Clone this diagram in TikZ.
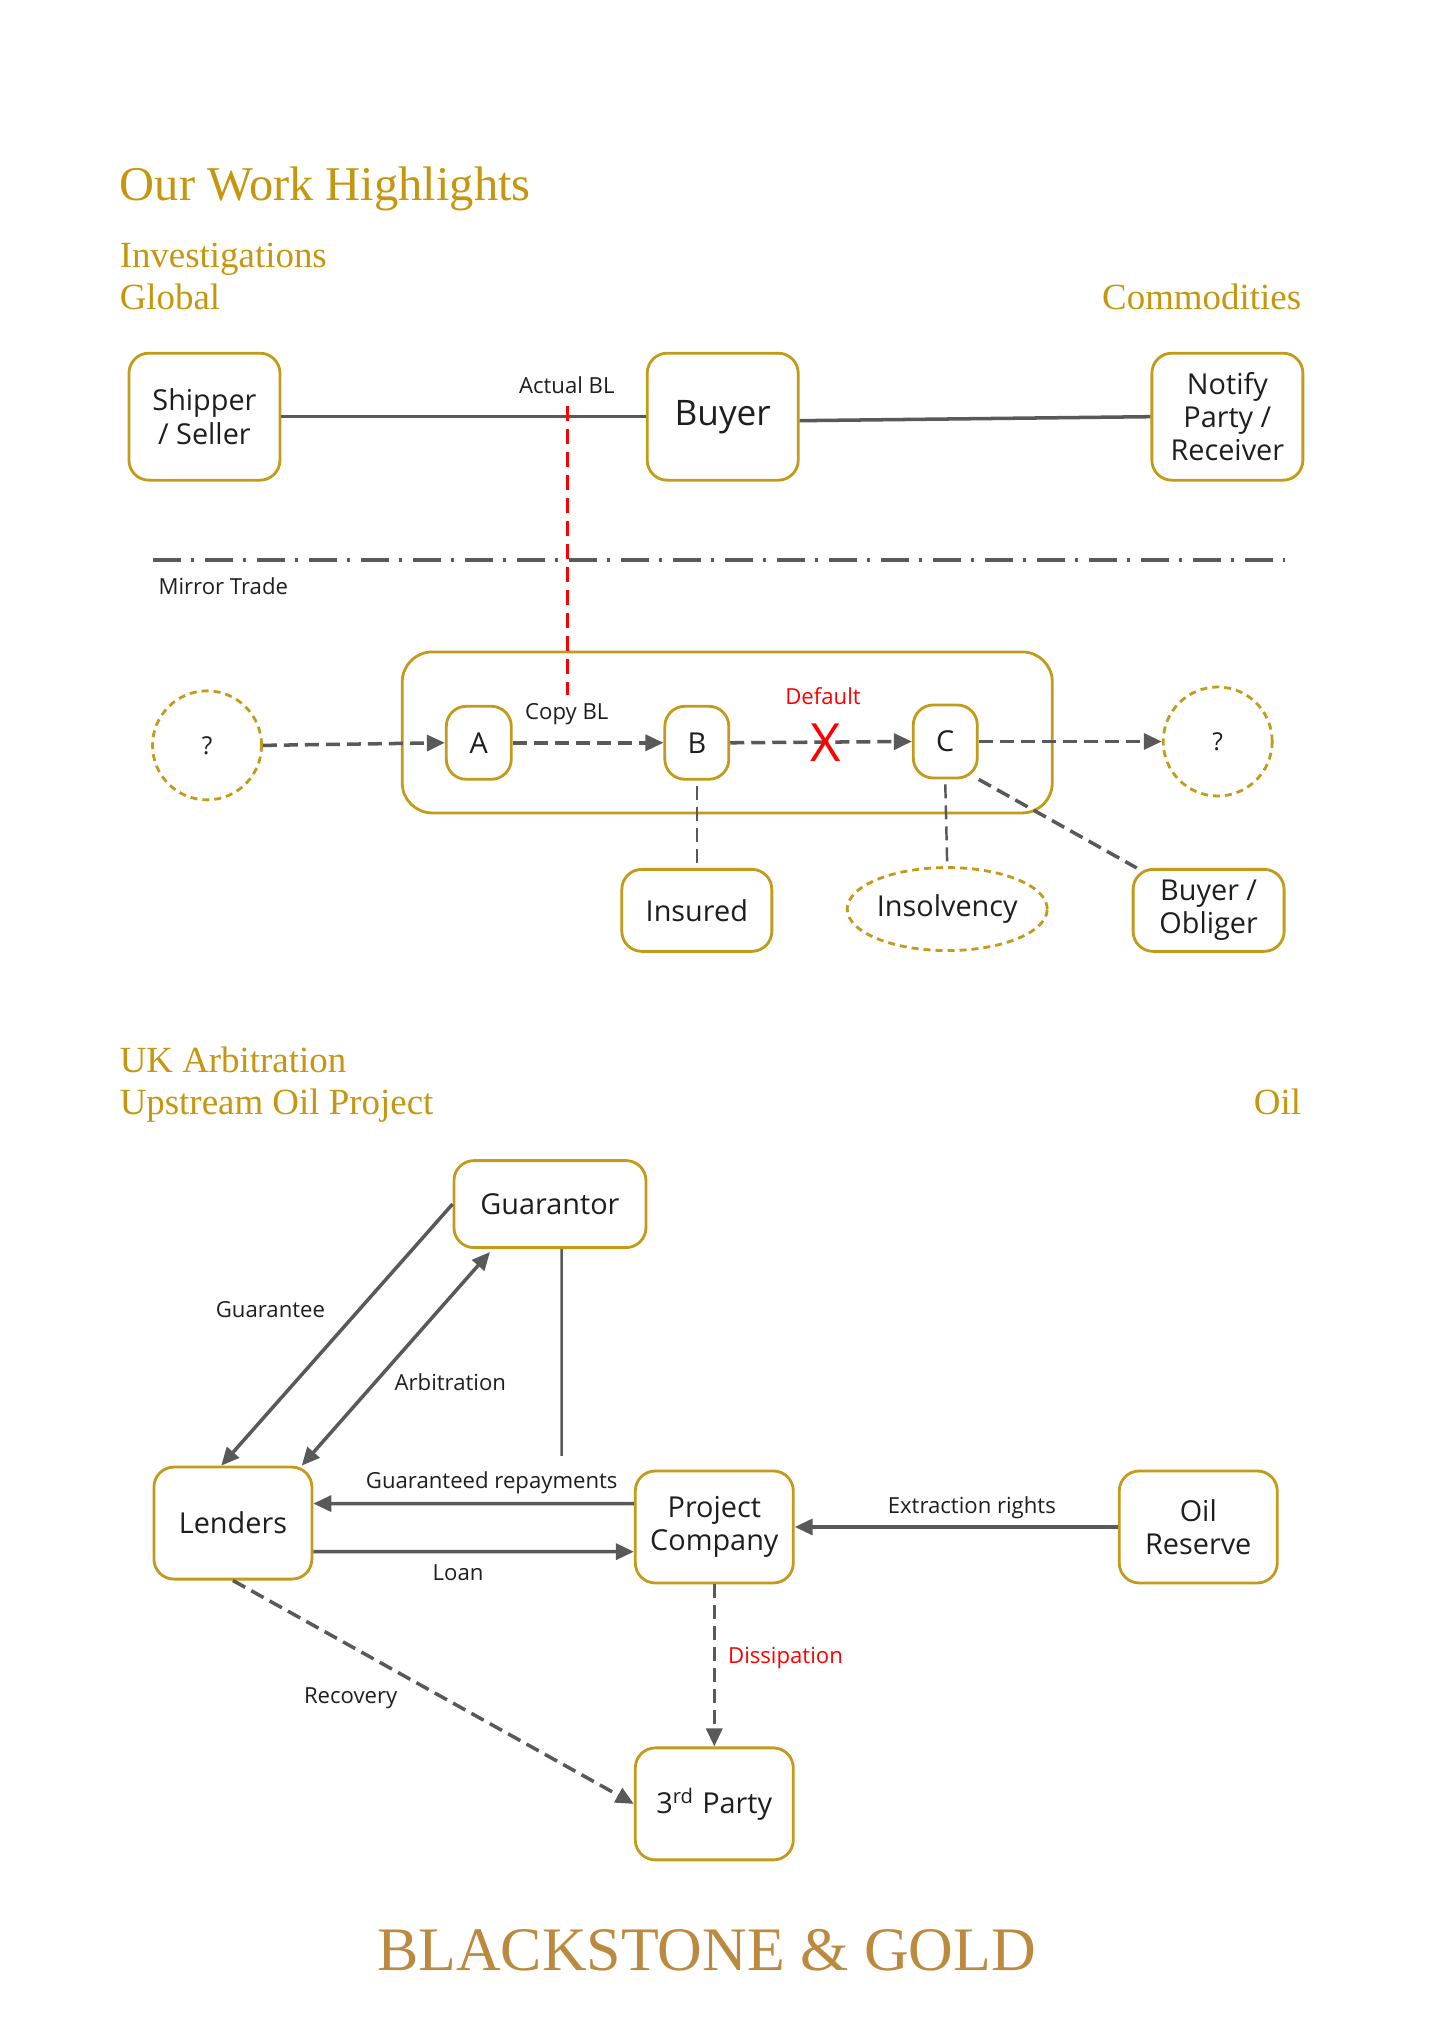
\documentclass[tikz,border=0pt]{standalone}
\usepackage{fontspec}
\setmainfont{Liberation Serif}
\setsansfont{Open Sans}
\usepackage{xcolor}
\usetikzlibrary{shapes.geometric,arrows.meta,positioning}
\definecolor{gold}{HTML}{C49A1A}
\definecolor{headgold}{HTML}{C6960F}
\definecolor{logogold}{HTML}{BC8A3E}
\definecolor{linegrey}{HTML}{595959}
\definecolor{inkgrey}{HTML}{1E1E1E}
\tikzset{
  box/.style n args={2}{draw=gold, line width=0.8pt, fill=white, rounded corners=0.2cm, minimum width=#1cm, minimum height=#2cm, inner sep=0pt, align=center, text=inkgrey, font=\sffamily\fontsize{8.2}{9.4}\selectfont},
  dashcircle/.style={draw=gold, line width=0.8pt, dash pattern=on 0.07cm off 0.05cm, circle, minimum size=1.09cm, inner sep=0pt, text=inkgrey, font=\sffamily\fontsize{7}{8}\selectfont},
  lbl/.style={inner sep=0pt, text=inkgrey, font=\sffamily\fontsize{6.3}{7.5}\selectfont},
  redlbl/.style={lbl, text=red},
  heading/.style={inner sep=0pt, text=headgold, font=\fontsize{10.5}{12}\selectfont},
  link/.style={draw=linegrey, line width=1pt},
  dashlink/.style={link, dash pattern=on 0.14cm off 0.07cm},
  tip/.style={-{Triangle[length=0.18cm, width=0.16cm]}},
  bothtip/.style={{Triangle[length=0.18cm, width=0.16cm]}-{Triangle[length=0.18cm, width=0.16cm]}}
}
\begin{document}
\begin{tikzpicture}[x=0.1294mm, y=-0.1294mm]
    \useasboundingbox (0,0) rectangle (1103.6,1567.2);

    % Headings
    \node[heading, anchor=base west, font=\fontsize{13.8}{15}\selectfont] (title) at (92,155) {Our Work Highlights};
    \node[heading, anchor=base west] (invest) at (92,207) {Investigations};
    \node[heading, anchor=base west] (global) at (92,239) {Global};
    \node[heading, anchor=base east] (commod) at (1006,239) {Commodities};

    % Actual trade
    \node[box={1.51}{1.27}] (shipper) at (158,322) {Shipper\\/ Seller};
    \node[box={1.51}{1.27}, font=\sffamily\fontsize{10}{12}\selectfont] (buyer) at (558.5,322) {Buyer};
    \node[box={1.51}{1.27}] (notify) at (948.5,322) {Notify\\Party /\\Receiver};

    \draw[link] (shipper.east) -- (buyer.west);
    \draw[link] ([yshift=-0.04cm]buyer.east) -- (notify.west);
    \node[lbl] (actual) at (438,298) {Actual BL};

    % Mirror trade
    \coordinate (divleft) at (118,433);
    \coordinate (divright) at (993,433);
    \draw[link, line width=1.1pt, dash pattern=on 0.28cm off 0.10cm on 0.03cm off 0.11cm] (divleft) -- (divright);
    \node[lbl, anchor=west] (mirror) at (122,453) {Mirror Trade};

    \node[box={6.5}{1.61}, rounded corners=0.3cm] (chain) at (562,566) {};
    \node[box={0.65}{0.73}] (boxa) at (370,574) {A};
    \node[box={0.64}{0.73}] (boxb) at (538.5,574) {B};
    \node[box={0.64}{0.73}] (boxc) at (730.5,573) {C};
    \node[dashcircle] (qleft) at (160,576) {?};
    \node[dashcircle] (qright) at (941,573) {?};

    \node[box={1.5}{0.82}] (insured) at (538.5,703.5) {Insured};
    \node[box={1.51}{0.82}] (obliger) at (934,703.5) {Buyer /\\Obliger};
    \node[box={2}{0.83}, ellipse, rounded corners=0pt, dash pattern=on 0.07cm off 0.05cm] (insolv) at (732,702.5) {Insolvency};

    \draw[dashlink, tip] (qleft.east) -- (boxa.west);
    \draw[dashlink, tip] (boxa.east) -- (boxb.west);
    \draw[dashlink, tip] (boxb.east) -- (boxc.west);
    \draw[dashlink, tip] (boxc.east) -- (qright.west);
    \draw[dashlink, line width=0.7pt] ([yshift=-0.05cm]boxb.south) -- (insured.north);
    \draw[dashlink, line width=0.7pt] ([yshift=-0.05cm]boxc.south) -- (insolv.north);
    \draw[dashlink] (boxc.south east) -- ([xshift=0.05cm]obliger.north west);

    \node[lbl] (copy) at (438,552) {Copy BL};
    \node[redlbl] (default) at (636,538) {Default};
    \node[inner sep=0pt, text=red, font=\sffamily\fontsize{15}{15}\selectfont] (cross) at (638,574) {X};

    % Copy of the bill
    \coordinate (redtop) at (438.5,314);
    \coordinate (redend) at (438.5,537);
    \draw[red, line width=0.9pt, dash pattern=on 0.15cm off 0.08cm] (redtop) -- (redend);

    % Second case
    \node[heading, anchor=base west] (ukarb) at (92,829) {UK Arbitration};
    \node[heading, anchor=base west] (upstream) at (92,861) {Upstream Oil Project};
    \node[heading, anchor=base east] (oil) at (1006,861) {Oil};

    \node[box={1.92}{0.87}] (guarantor) at (425,930.5) {Guarantor};
    \node[box={1.58}{1.12}] (lenders) at (180,1177) {Lenders};
    \node[box={1.58}{1.12}] (project) at (552,1180) {Project\\Company};
    \node[box={1.58}{1.12}] (reserve) at (926,1180) {Oil\\Reserve};
    \node[box={1.58}{1.12}] (party) at (552,1394) {3\textsuperscript{rd} Party};

    \coordinate (guarend) at (434,1125);
    \draw[link, tip] (guarantor.west) -- ([xshift=-0.117cm]lenders.north);
    \draw[link, bothtip] ([xshift=0.688cm]lenders.north) -- ([xshift=-0.6cm, yshift=-0.03cm]guarantor.south);
    \draw[link, line width=0.7pt] ([xshift=0.117cm]guarantor.south) -- (guarend);
    \draw[link, tip] ([yshift=0.234cm]project.west) -- ([yshift=0.195cm]lenders.east);
    \draw[link, tip] ([yshift=-0.286cm]lenders.east) -- ([yshift=-0.247cm]project.west);
    \draw[link, tip] (reserve.west) -- (project.east);
    \draw[dashlink, tip] (project.south) -- (party.north);
    \draw[dashlink, tip] (lenders.south) -- (party.west);

    \node[lbl] (guarantee) at (209,1012) {Guarantee};
    \node[lbl] (arbitration) at (348,1068) {Arbitration};
    \node[lbl] (repay) at (380,1146) {Guaranteed repayments};
    \node[lbl] (loan) at (354,1215) {Loan};
    \node[lbl] (extract) at (751,1165) {Extraction rights};
    \node[redlbl] (dissip) at (607,1281) {Dissipation};
    \node[lbl] (recovery) at (271,1312) {Recovery};

    % Logo
    \node[inner sep=0pt, text=logogold, font=\fontsize{17.6}{20}\selectfont] (logo) at (546,1507) {BLACKSTONE \& GOLD};
\end{tikzpicture}
\end{document}
